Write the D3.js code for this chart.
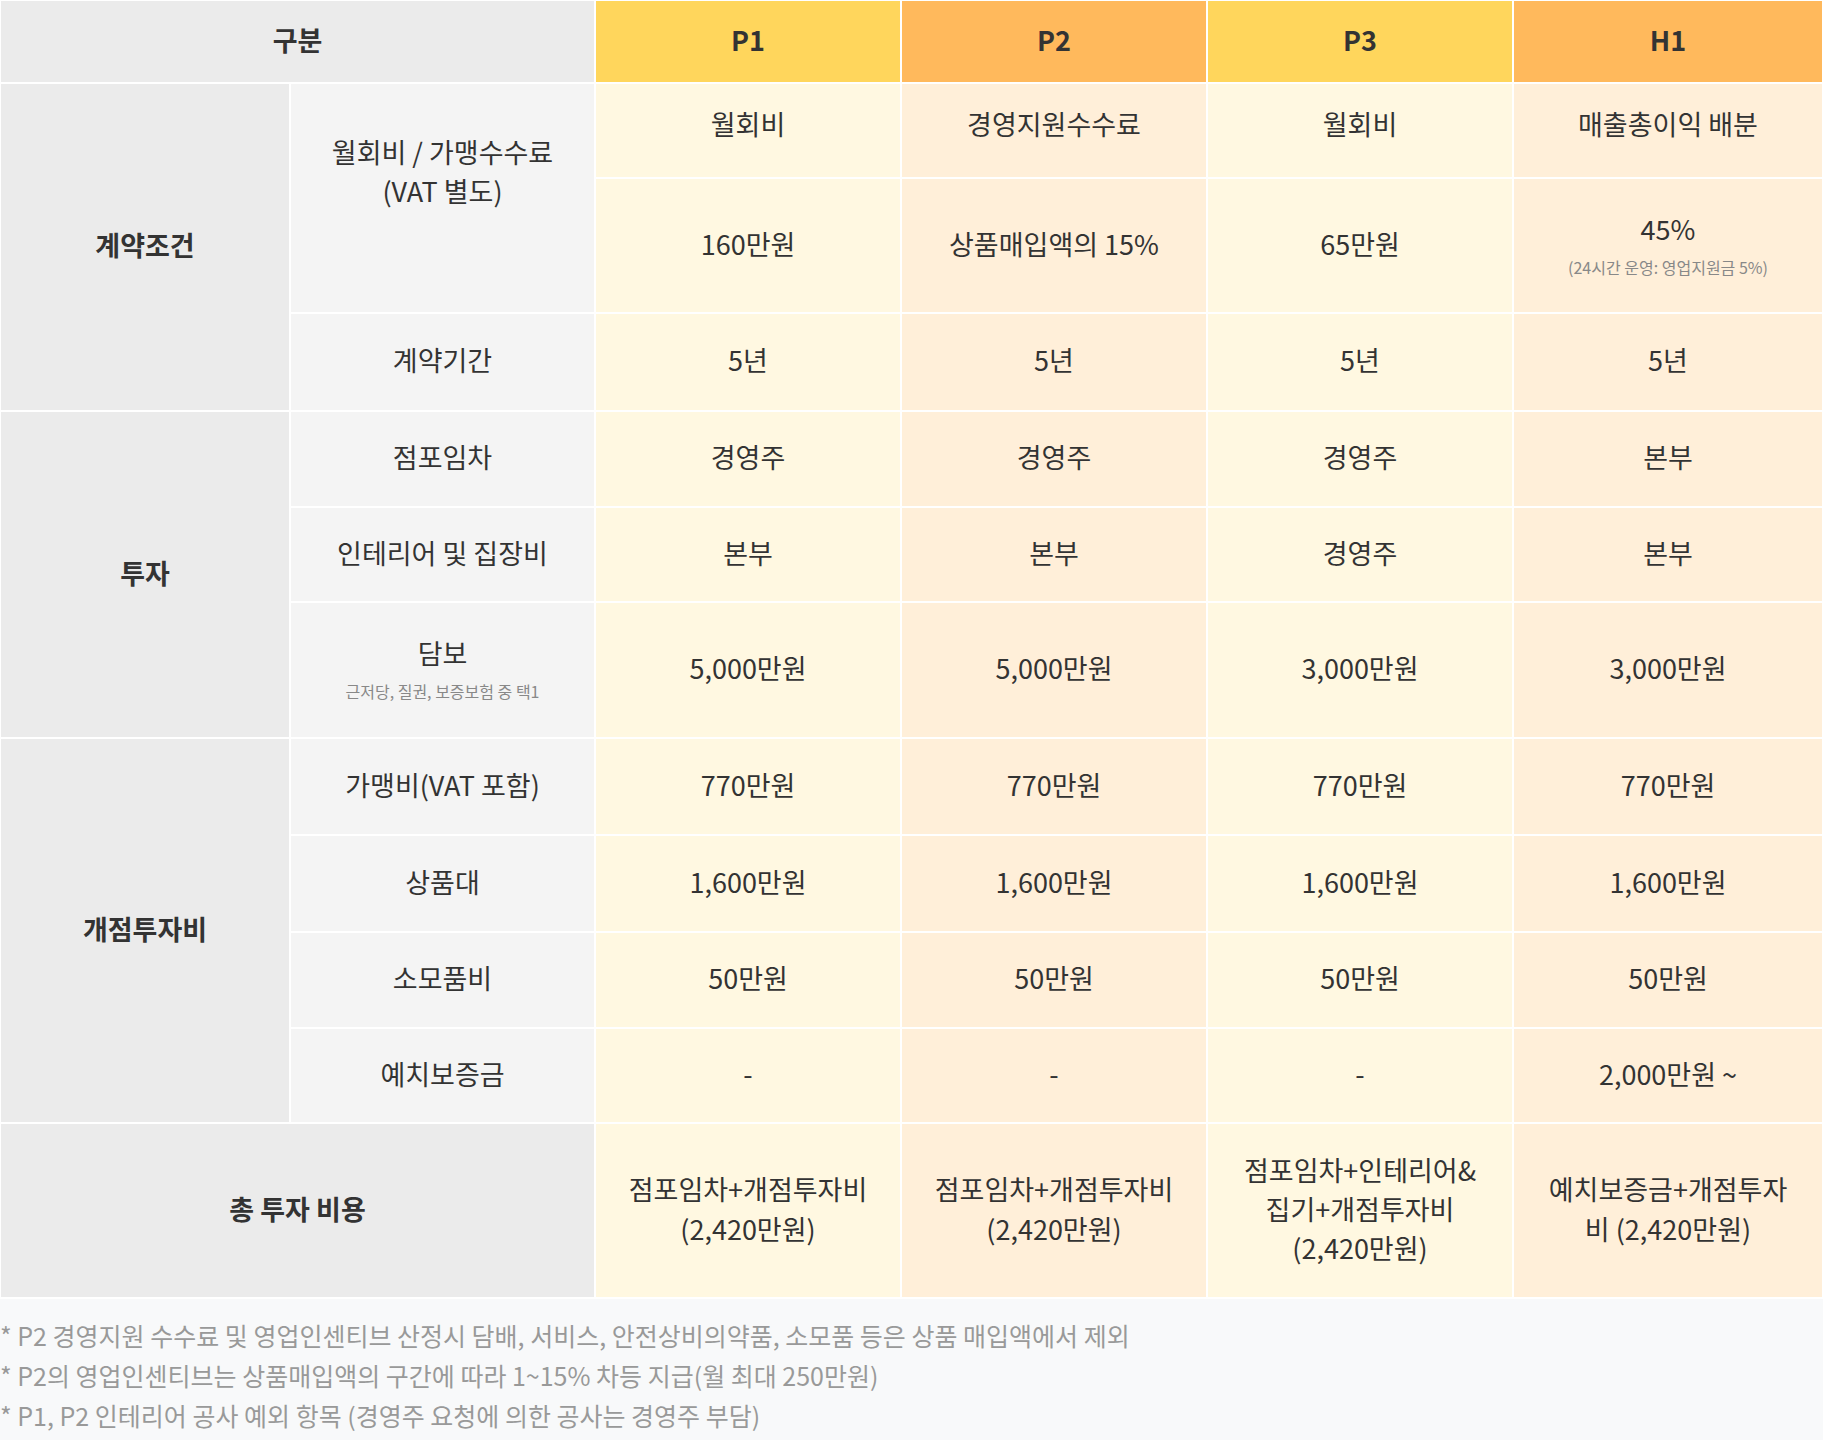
<!DOCTYPE html>
<html><head><meta charset="utf-8">
<script src="https://cdn.jsdelivr.net/npm/d3@7"></script>
<style>
body{margin:0;background:#fff;}
text{font-family:"Noto Sans CJK KR","Noto Sans",sans-serif;}
</style></head>
<body>
<svg id="chart" width="1823" height="1440"></svg>
<script>
// plans and table contents
var plans = ["P1", "P2", "P3", "H1"];
var groups = ["계약조건", "투자", "개점투자비"];
var groupSpans = [3, 3, 4];
var items = ["월회비 / 가맹수수료\n(VAT 별도)", "", "계약기간", "점포임차", "인테리어 및 집장비", "담보", "가맹비(VAT 포함)", "상품대", "소모품비", "예치보증금"];
var itemNotes = ["", "", "", "", "", "근저당, 질권, 보증보험 중 택1", "", "", "", ""];
var P1 = ["월회비", "160만원", "5년", "경영주", "본부", "5,000만원", "770만원", "1,600만원", "50만원", "-"];
var P2 = ["경영지원수수료", "상품매입액의 15%", "5년", "경영주", "본부", "5,000만원", "770만원", "1,600만원", "50만원", "-"];
var P3 = ["월회비", "65만원", "5년", "경영주", "경영주", "3,000만원", "770만원", "1,600만원", "50만원", "-"];
var H1 = ["매출총이익 배분", "45%", "5년", "본부", "본부", "3,000만원", "770만원", "1,600만원", "50만원", "2,000만원 ~"];
var H1notes = ["", "(24시간 운영: 영업지원금 5%)", "", "", "", "", "", "", "", ""];
var totalLabel = "총 투자 비용";
var totals = ["점포임차+개점투자비\n(2,420만원)", "점포임차+개점투자비\n(2,420만원)", "점포임차+인테리어&\n집기+개점투자비\n(2,420만원)", "예치보증금+개점투자\n비 (2,420만원)"];
var notes = [
  "* P2 경영지원 수수료 및 영업인센티브 산정시 담배, 서비스, 안전상비의약품, 소모품 등은 상품 매입액에서 제외",
  "* P2의 영업인센티브는 상품매입액의 구간에 따라 1~15% 차등 지급(월 최대 250만원)",
  "* P1, P2 인테리어 공사 예외 항목 (경영주 요청에 의한 공사는 경영주 부담)"
];

var values = [P1, P2, P3, H1];
var rowEdges = [0, 83, 178, 313, 411, 507, 602, 738, 835, 932, 1028, 1123, 1298];
var colEdges = [0, 290, 595, 901, 1207, 1513, 1823];
var headFill = ["#ffd65c", "#ffb95c", "#ffd65c", "#ffb95c"];
var bodyFill = ["#fff8e1", "#ffefd9", "#fff8e1", "#ffefd9"];

var svg = d3.select("#chart");
svg.append("rect").attr("width", 1823).attr("height", 1440).attr("fill", "#f8f9fa");
var g = svg.append("g");

function cell(c0, c1, r0, r1, fill, label, opts) {
  opts = opts || {};
  var x0 = colEdges[c0], x1 = colEdges[c1], y0 = rowEdges[r0], y1 = rowEdges[r1];
  g.append("rect").attr("x", x0).attr("y", y0).attr("width", x1 - x0).attr("height", y1 - y0)
    .attr("fill", fill).attr("stroke", "#fff").attr("stroke-width", 2);
  var lines = label ? label.split("\n") : [];
  var fs = opts.size || 27, lh = fs * 1.45;
  var sub = opts.note ? 1 : 0;
  var total = lines.length * lh + (sub ? 30 : 0);
  var cx = (x0 + x1) / 2, top = (y0 + y1) / 2 - total / 2 + (opts.dy || 0);
  lines.forEach(function (t, i) {
    g.append("text").attr("x", cx).attr("y", top + lh * i + lh / 2).attr("dy", "0.35em")
      .attr("text-anchor", "middle").attr("font-size", fs)
      .attr("font-weight", opts.bold ? 700 : 400).attr("fill", "#333").text(t);
  });
  if (sub) {
    g.append("text").attr("x", cx).attr("y", top + lines.length * lh + 18).attr("dy", "0.35em")
      .attr("text-anchor", "middle").attr("font-size", 16).attr("fill", "#888").text(opts.note);
  }
}

// header
cell(0, 2, 0, 1, "#ebebeb", "구분", {bold: true});
plans.forEach(function (p, i) { cell(i + 2, i + 3, 0, 1, headFill[i], p, {bold: true}); });
// groups
var r = 1;
groups.forEach(function (gname, i) {
  cell(0, 1, r, r + groupSpans[i], "#ebebeb", gname, {bold: true});
  r += groupSpans[i];
});
// items
items.forEach(function (it, i) {
  if (i === 1) return;
  var span = i === 0 ? 2 : 1;
  cell(1, 2, i + 1, i + 1 + span, "#f4f4f4", it, {note: itemNotes[i], dy: i === 0 ? -25 : 0});
});
// values
values.forEach(function (arr, j) {
  arr.forEach(function (v, i) {
    cell(j + 2, j + 3, i + 1, i + 2, bodyFill[j], v, {note: j === 3 ? H1notes[i] : "", dy: i === 0 ? -5 : 0});
  });
});
// totals
cell(0, 2, 11, 12, "#ebebeb", totalLabel, {bold: true});
totals.forEach(function (t, j) { cell(j + 2, j + 3, 11, 12, bodyFill[j], t); });

// footnotes
notes.forEach(function (n, i) {
  svg.append("text").attr("x", 0).attr("y", 1337 + i * 40).attr("dy", "0.35em")
    .attr("font-size", 25).attr("fill", "#999").text(n);
});
</script>
</body></html>
